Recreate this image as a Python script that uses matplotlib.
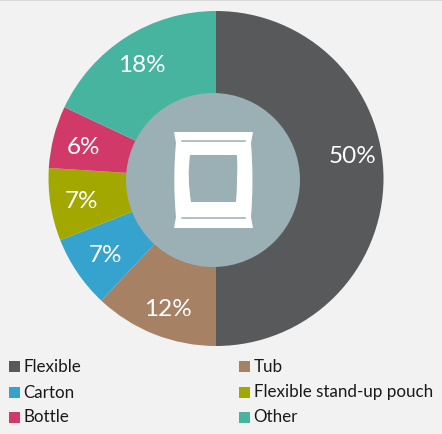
import matplotlib
matplotlib.use('Agg')
import matplotlib.pyplot as plt
from matplotlib.patches import Circle, PathPatch, Rectangle
from matplotlib.path import Path

categories = ['Flexible', 'Tub', 'Carton', 'Flexible stand-up pouch', 'Bottle', 'Other']
shares = [50, 12, 7, 7, 6, 18]
colores = ['#58595b', '#a68164', '#36a3cf', '#a3a800', '#d13a68', '#46b49f']

W, H = 442, 434
plt.rcParams['font.family'] = ['Lato', 'DejaVu Sans']

fig = plt.figure(figsize=(W / 100, H / 100), dpi=100, facecolor='#f2f2f2')
ax = fig.add_axes([0, 0, 1, 1])


def py(y):
    # coordenadas en pixeles desde arriba
    return H - y


ax.pie(shares, colors=colores, startangle=90, counterclock=False,
       center=(216, py(178.5)), radius=167.5, frame=True,
       wedgeprops={'linewidth': 0})
ax.set_xlim(0, W)
ax.set_ylim(0, H)
ax.set_aspect('equal')
ax.axis('off')

# banda gris superior
ax.add_patch(Rectangle((0, py(1)), W, 1, color='#d9d9d9', lw=0))

# etiquetas de porcentaje
label_pos = [(353, 156.5), (168, 309), (106, 255), (81, 201), (84, 147), (142, 65)]
for v, (x, y) in zip(shares, label_pos):
    ax.text(x, py(y), f'{v}%', color='white', fontsize=17.5, ha='center', va='center')

# circulo central
ax.add_patch(Circle((213, py(180)), 87, facecolor='#9ab0b4', edgecolor='none', zorder=3))

# icono de la bolsa
M, L, C, Z = Path.MOVETO, Path.LINETO, Path.CURVE3, Path.CLOSEPOLY
verts = [
    (174, 132), (253, 132), (251, 143), (254, 180), (251, 217), (253, 228),
    (174, 228), (176, 217), (172.5, 180), (176, 143), (174, 132), (174, 132),
    # hueco, en sentido contrario
    (190, 155), (187, 178), (191, 202), (236, 202),
    (238, 178), (237, 155), (190, 155), (190, 155),
]
codes = [M, L, L, C, C, L,
         L, L, C, C, L, Z,
         M, C, C, L,
         C, C, L, Z]
verts = [(x, py(y)) for x, y in verts]
ax.add_patch(PathPatch(Path(verts, codes), facecolor='white', edgecolor='none', zorder=4))
for y in (140.5, 217.5):
    ax.plot([182, 245], [py(y), py(y)], color='#9ab0b4', lw=1.1, zorder=5)

# leyenda
filas = [366.5, 392, 417]
col_x = [9, 239]
for i, (cat, col) in enumerate(zip(categories, colores)):
    x = col_x[i % 2]
    y = filas[i // 2]
    ax.add_patch(Rectangle((x, py(y + 5.5)), 11, 11, facecolor=col, edgecolor='none'))
    ax.text(x + 14.5, py(y + 0.5), cat, color='#1a1a1a', fontsize=12.25, ha='left', va='center')

fig.savefig('out.png', dpi=100, facecolor=fig.get_facecolor())
